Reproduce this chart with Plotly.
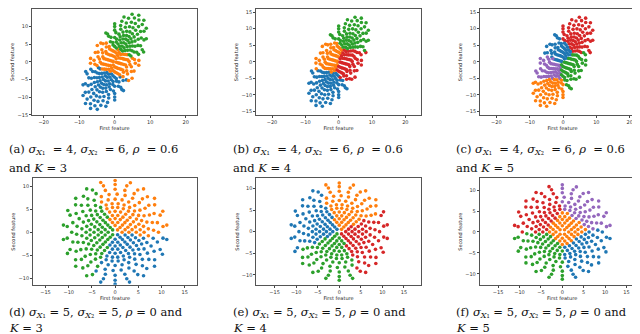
import numpy as np
import plotly.graph_objects as go

# sample grid: concentric rings, radius in standard-deviation units, angles in degrees
ring_radius = [0.15, 0.3, 0.445, 0.595, 0.74, 0.91, 1.085, 1.25, 1.44, 1.66, 1.87, 2.08, 2.25]
angles_r1 = [45, 135, 225, 315]
angles_r2 = [0, 45, 90, 135, 180, 225, 270, 315]
angles_r3 = [15, 45, 75, 105, 135, 165, 195, 225, 255, 285, 315, 345]
angles_r4 = [0, 22, 45, 68, 90, 112, 135, 158, 180, 202, 225, 248, 270, 292, 315, 338]
angles_r5 = [9, 27, 45, 63, 81, 99, 117, 135, 153, 171, 189, 207, 225, 243, 261, 279, 297, 315, 333, 351]
angles_r6 = [0, 15, 30, 45, 60, 75, 90, 105, 120, 135, 150, 165, 180, 195, 210, 225, 240, 255, 270, 285,
             300, 315, 330, 345]
angles_r7 = [6, 19, 32, 45, 58, 71, 84, 96, 109, 122, 135, 148, 161, 174, 186, 199, 212, 225, 238, 251,
             264, 276, 289, 302, 315, 328, 341, 354]
angles_r8 = [0, 12, 24, 36, 48, 60, 72, 84, 96, 108, 120, 132, 144, 156, 168, 180, 192, 204, 216, 228,
             240, 252, 264, 276, 288, 300, 312, 324, 336, 348]
angles_r9 = [6, 18, 30, 42, 54, 66, 78, 90, 102, 114, 126, 138, 150, 162, 174, 186, 198, 210, 222, 234,
             246, 258, 270, 282, 294, 306, 318, 330, 342, 354]
angles_r10 = [3, 15, 27, 39, 51, 63, 75, 87, 99, 111, 123, 135, 147, 159, 171, 183, 195, 207, 219, 231,
              243, 255, 267, 279, 291, 303, 315, 327, 339, 351]
angles_r11 = [0, 13, 26, 39, 51, 64, 77, 90, 103, 116, 129, 141, 154, 167, 180, 193, 206, 219, 231, 244,
              257, 270, 283, 296, 309, 321, 334, 347]
angles_r12 = [7, 21, 35, 48, 62, 76, 90, 104, 118, 131, 145, 159, 173, 187, 201, 215, 228, 242, 256, 270,
              284, 298, 311, 325, 339, 353]
angles_r13 = [8, 24, 41, 57, 73, 90, 106, 123, 139, 155, 172, 188, 204, 221, 237, 254, 270, 286, 303, 319,
              335, 352]
ring_angles = [angles_r1, angles_r2, angles_r3, angles_r4, angles_r5, angles_r6, angles_r7,
               angles_r8, angles_r9, angles_r10, angles_r11, angles_r12, angles_r13]

# distribution of each row (from the captions)
top_sigma1, top_sigma2, top_rho = 4, 6, 0.6
bottom_sigma1, bottom_sigma2, bottom_rho = 5, 5, 0

# cluster centres: (colour key, x, y)
centres_a = [("blue", -3, -6), ("orange", -0.3, 0.2), ("green", 3, 6.5)]
centres_b = [("blue", -4, -7.5), ("orange", -3, 1.5), ("red", 3.3, -0.5), ("green", 4, 8)]
centres_c = [("red", 3.5, 7.5), ("blue", -1.5, 3.5), ("purple", -4.5, -1.5), ("green", 3.5, -2),
             ("orange", -4.5, -9)]
centres_d = [("green", -5.5, -0.5), ("orange", 4, 4), ("blue", 3.1, -4.9)]
centres_e = [("blue", -5.5, 2), ("orange", 2, 5.5), ("red", 5.5, -2), ("green", -2, -5.5)]
centres_f = [("orange", 1, 1), ("red", -4.5, 4.5), ("purple", 4.5, 5.5), ("blue", 4.5, -4.5),
             ("green", -4.5, -4.5)]

EQ = " \u00a0= "  # slightly wider (justified) spacing in the top captions
captions_line1 = [
    f"(a) <i>σ</i><sub><i>X</i>₁</sub>{EQ}4, <i>σ</i><sub><i>X</i>₂</sub>{EQ}6, <i>ρ</i>{EQ}0.6",
    f"(b) <i>σ</i><sub><i>X</i>₁</sub>{EQ}4, <i>σ</i><sub><i>X</i>₂</sub>{EQ}6, <i>ρ</i>{EQ}0.6",
    f"(c) <i>σ</i><sub><i>X</i>₁</sub>{EQ}4, <i>σ</i><sub><i>X</i>₂</sub>{EQ}6, <i>ρ</i>{EQ}0.6",
    "(d) <i>σ</i><sub><i>X</i>₁</sub> = 5, <i>σ</i><sub><i>X</i>₂</sub> = 5, <i>ρ</i> = 0 and",
    "(e) <i>σ</i><sub><i>X</i>₁</sub> = 5, <i>σ</i><sub><i>X</i>₂</sub> = 5, <i>ρ</i> = 0 and",
    "(f) <i>σ</i><sub><i>X</i>₁</sub> = 5, <i>σ</i><sub><i>X</i>₂</sub> = 5, <i>ρ</i> = 0 and",
]
captions_line2 = ["and <i>K</i> = 3", "and <i>K</i> = 4", "and <i>K</i> = 5",
                  "<i>K</i> = 3", "<i>K</i> = 4", "<i>K</i> = 5"]

top_xticks = [-20, -10, 0, 10, 20]
top_yticks_a = [-15, -10, -5, 0, 5, 10]
top_yticks = [-15, -10, -5, 0, 5, 10, 15]
bottom_xticks = [-15, -10, -5, 0, 5, 10, 15]
bottom_yticks = [-10, -5, 0, 5, 10]

COLORS = {"blue": "#1f77b4", "orange": "#ff7f0e", "green": "#2ca02c",
          "red": "#d62728", "purple": "#9467bd"}
W, H = 640, 334


def grid_points(s1, s2, rho):
    z1, z2 = [], []
    for r, angs in zip(ring_radius, ring_angles):
        a = np.radians(angs)
        z1.extend(r * np.cos(a))
        z2.extend(r * np.sin(a))
    z1, z2 = np.array(z1), np.array(z2)
    return s1 * z1, s2 * (rho * z1 + np.sqrt(1 - rho ** 2) * z2)


top_x, top_y = grid_points(top_sigma1, top_sigma2, top_rho)
bot_x, bot_y = grid_points(bottom_sigma1, bottom_sigma2, bottom_rho)

# panel geometry in pixels: (x0, x1, y0, y1), axis ranges
panels = [
    dict(pts=(top_x, top_y), centres=centres_a, px=(24, 189, 0, 107), xr=[-23.3, 23.2], yr=[-15.08, 14.97],
         xt=top_xticks, yt=top_yticks_a),
    dict(pts=(top_x, top_y), centres=centres_b, px=(248, 413, 0, 107.3), xr=[-24.8, 24.7], yr=[-16.2, 15.96],
         xt=top_xticks, yt=top_yticks),
    dict(pts=(top_x, top_y), centres=centres_c, px=(472, 637, 0, 107.3), xr=[-24.9, 24.6], yr=[-16.2, 15.96],
         xt=top_xticks, yt=top_yticks),
    dict(pts=(bot_x, bot_y), centres=centres_d, px=(25, 189, 171, 278.3), xr=[-17.7, 17.65], yr=[-11.4, 11.7],
         xt=bottom_xticks, yt=bottom_yticks),
    dict(pts=(bot_x, bot_y), centres=centres_e, px=(248.3, 412.7, 171, 278.3), xr=[-19.25, 18.9],
         yr=[-12.3, 12.3], xt=bottom_xticks, yt=bottom_yticks),
    dict(pts=(bot_x, bot_y), centres=centres_f, px=(471.7, 636.7, 171, 278.3), xr=[-19.3, 19.25],
         yr=[-12.6, 12.77], xt=bottom_xticks, yt=bottom_yticks),
]

fig = go.Figure()
axis_style = dict(showgrid=False, zeroline=False, showline=True, mirror=True, linecolor="#555",
                  linewidth=0.8, ticks="outside", ticklen=2, tickwidth=0.6, tickcolor="#444",
                  tickfont=dict(family="DejaVu Sans", size=5, color="#333"))
title_font = dict(family="DejaVu Sans", size=5, color="#222")

for n, p in enumerate(panels, start=1):
    xs, ys = p["pts"]
    cx = np.array([c[1] for c in p["centres"]])
    cy = np.array([c[2] for c in p["centres"]])
    lab = np.argmin((xs[:, None] - cx) ** 2 + (ys[:, None] - cy) ** 2, axis=1)
    sfx = "" if n == 1 else str(n)
    for k, c in enumerate(p["centres"]):
        m = lab == k
        fig.add_trace(go.Scatter(x=xs[m], y=ys[m], mode="markers", xaxis="x" + sfx, yaxis="y" + sfx,
                                 marker=dict(size=3.6, color=COLORS[c[0]], line=dict(width=0)),
                                 showlegend=False, hoverinfo="skip"))
    x0, x1, y0, y1 = p["px"]
    fig.layout["xaxis" + sfx] = dict(axis_style, domain=[x0 / W, x1 / W], range=p["xr"], tickvals=p["xt"],
                                     anchor="y" + sfx,
                                     title=dict(text="First feature", font=title_font, standoff=1))
    fig.layout["yaxis" + sfx] = dict(axis_style, domain=[1 - y1 / H, 1 - y0 / H], range=p["yr"],
                                     tickvals=p["yt"], anchor="x" + sfx,
                                     title=dict(text="Second feature", font=title_font, standoff=2))

cap_x = [0, 224, 447, 0, 224, 447]
cap_y1 = [142, 142, 142, 306, 306, 306]
cap_y2 = [160, 160, 160, 322, 322, 322]
for i in range(6):
    for txt, yy in ((captions_line1[i], cap_y1[i]), (captions_line2[i], cap_y2[i])):
        fig.add_annotation(text=txt, x=cap_x[i] / W, y=1 - yy / H, xref="paper", yref="paper",
                           xanchor="left", yanchor="middle", showarrow=False, borderpad=0,
                           font=dict(family="DejaVu Serif", size=11.5, color="#111"))

fig.update_layout(width=W, height=H, margin=dict(l=0, r=0, t=0, b=0),
                  paper_bgcolor="white", plot_bgcolor="white")
fig.write_html("out.html")
